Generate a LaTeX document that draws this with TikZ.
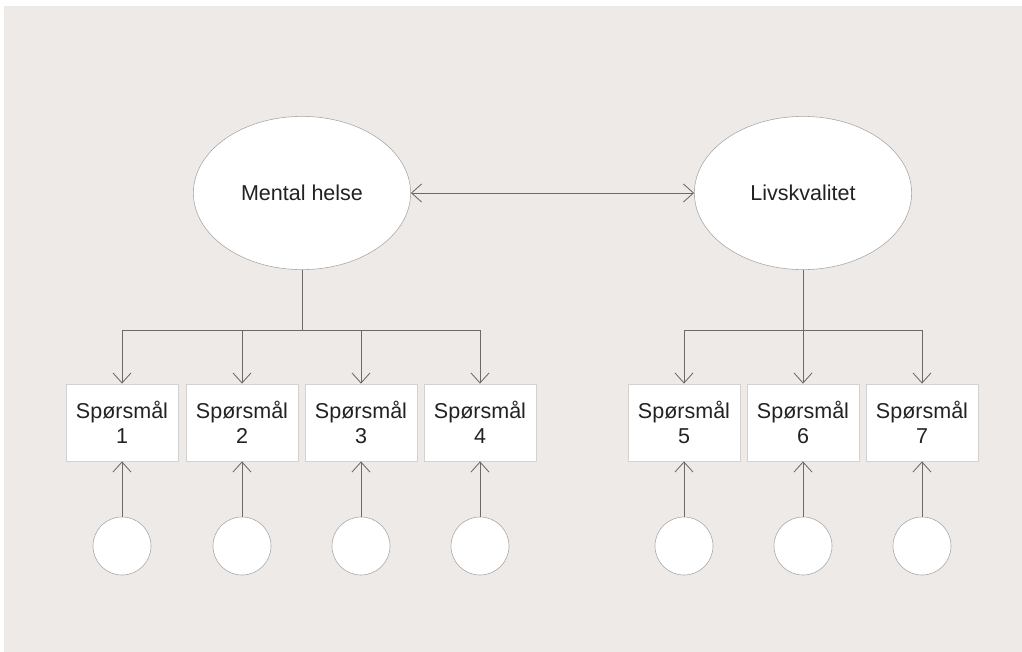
\documentclass[tikz,border=0pt]{standalone}
\usepackage{fontspec}
\setmainfont{Liberation Sans}
\usetikzlibrary{arrows.meta,shapes.geometric}
\definecolor{paper}{HTML}{EEEAE8}
\definecolor{wire}{HTML}{6A6A6A}
\definecolor{ink}{HTML}{222222}
\tikzset{
  latent/.style={ellipse,draw=gray!70,fill=white,text=ink,minimum width=5.43cm,minimum height=3.83cm,font=\fontsize{15.3}{18}\selectfont},
  item/.style={draw=gray!35,fill=white,text=ink,minimum width=2.8cm,minimum height=1.93cm,align=center,font=\fontsize{15.3}{17.5}\selectfont},
  err/.style={circle,draw=gray!70,fill=white,minimum size=1.45cm},
  barb/.tip={Straight Barb[length=.25cm,width=.45cm]},
  link/.style={draw=wire,line width=.6pt,-barb}
}
\begin{document}
\begin{tikzpicture}[x=.025cm,y=-.025cm]
    \useasboundingbox (0,0) rectangle (1022,652);
    \fill[paper] (4,6) rectangle (1022,652);
    \node[latent] (mh) at (302,193) {Mental helse};
    \node[latent] (lk) at (803,193) {Livskvalitet};
    \draw[link,barb-barb] (mh) -- (lk);
    \foreach \i/\x in {1/122,2/242,3/361,4/480,5/684,6/803,7/922} {
      \node[item] (q\i) at (\x,422.5) {Spørsmål\\\i};
      \node[err] (e\i) at (\x,546) {};
      \draw[link] (e\i) -- (q\i);
    }
    \coordinate (mhbus) at (302,330);
    \coordinate (lkbus) at (803,330);
    \draw[wire,line width=.6pt] (mh.south) -- (mhbus);
    \draw[wire,line width=.6pt] (lk.south) -- (lkbus);
    \foreach \i in {1,...,4} \draw[link] (mhbus) -| (q\i);
    \foreach \i in {5,6,7} \draw[link] (lkbus) -| (q\i);
  \end{tikzpicture}
\end{document}
